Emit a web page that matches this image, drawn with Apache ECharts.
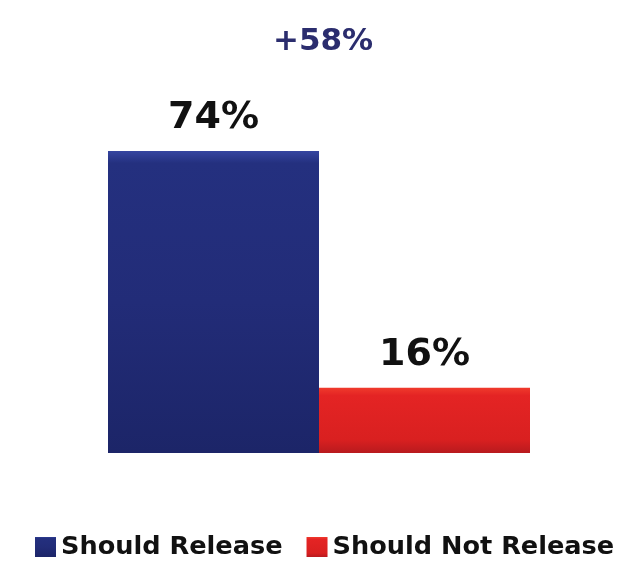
<!DOCTYPE html>
<html>
<head>
<meta charset="utf-8">
<script src="https://cdn.jsdelivr.net/npm/echarts@6/dist/echarts.min.js"></script>
<style>html,body{margin:0;padding:0;background:#fff}#c{width:628px;height:569px}</style>
</head>
<body>
<div id="c"></div>
<script>
const categories = ['Should Release', 'Should Not Release'];
const shouldRelease = [74, '-'];
const shouldNotRelease = ['-', 16];
const differenceLabel = '+58%';

const chart = echarts.init(document.getElementById('c'), null, {renderer: 'canvas'});
const font = '"DejaVu Sans", sans-serif';
const labelStyle = {
  show: true, position: 'top', distance: 14,
  formatter: p => p.value + '%',
  fontFamily: font, fontWeight: 'bold', fontSize: 38, color: '#111'
};
chart.setOption({
  animation: false,
  backgroundColor: '#fff',
  title: {
    text: differenceLabel, left: 268, top: 21,
    textStyle: {fontFamily: font, fontWeight: 'bold', fontSize: 31, color: '#2b2d6e'}
  },
  grid: {left: 108, right: 98, top: 45, bottom: 116},
  xAxis: {type: 'category', data: categories, show: false},
  yAxis: {type: 'value', min: 0, max: 100, show: false},
  legend: {
    bottom: 4, left: 30, icon: 'rect', itemWidth: 21, itemHeight: 20, itemGap: 24,
    textStyle: {fontFamily: font, fontWeight: 'bold', fontSize: 25.6, color: '#111'}
  },
  series: [
    {
      name: 'Should Release', type: 'bar', stack: 's', barWidth: '100%',
      data: shouldRelease,
      itemStyle: {
        color: new echarts.graphic.LinearGradient(0, 0, 0, 1, [
          {offset: 0, color: '#3545a0'}, {offset: 0.04, color: '#24307f'},
          {offset: 0.5, color: '#222c78'}, {offset: 1, color: '#1c2568'}
        ])
      },
      label: labelStyle
    },
    {
      name: 'Should Not Release', type: 'bar', stack: 's', barWidth: '100%',
      data: shouldNotRelease,
      itemStyle: {
        color: new echarts.graphic.LinearGradient(0, 0, 0, 1, [
          {offset: 0, color: '#f03a2c'}, {offset: 0.12, color: '#e42424'},
          {offset: 0.8, color: '#d92020'}, {offset: 1, color: '#b81a1e'}
        ])
      },
      label: labelStyle
    }
  ]
});
</script>
</body>
</html>
